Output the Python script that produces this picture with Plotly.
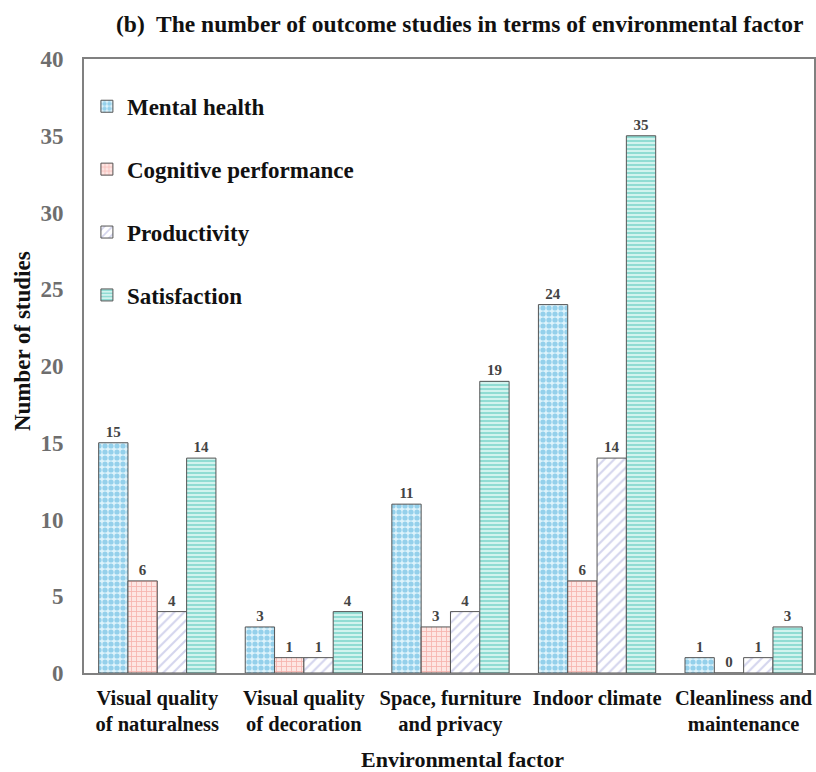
import plotly.graph_objects as go

# Environmental factors (x categories) and outcome study counts per outcome
factors = [
    "Visual quality<br>of naturalness",
    "Visual quality<br>of decoration",
    "Space, furniture<br>and privacy",
    "Indoor climate",
    "Cleanliness and<br>maintenance",
]
mental_health = [15, 3, 11, 24, 1]
cognitive_performance = [6, 1, 3, 6, 0]
productivity = [4, 1, 4, 14, 1]
satisfaction = [14, 4, 19, 35, 3]

y_ticks = [0, 5, 10, 15, 20, 25, 30, 35, 40]

SERIF = "Liberation Serif"

series = [
    ("Mental health", mental_health,
     dict(shape=".", fgcolor="#4aaedc", bgcolor="#dff3fb", size=6, solidity=0.6)),
    ("Cognitive performance", cognitive_performance,
     dict(shape="+", fgcolor="#ee7f78", bgcolor="#fde6e3", size=5, solidity=0.3)),
    ("Productivity", productivity,
     dict(shape="/", fgcolor="#a9abdc", bgcolor="#ffffff", size=7, solidity=0.3)),
    ("Satisfaction", satisfaction,
     dict(shape="-", fgcolor="#3fc2b2", bgcolor="#d2f3ee", size=4, solidity=0.45)),
]

fig = go.Figure()
for name, vals, pattern in series:
    fig.add_trace(go.Bar(
        name=name,
        x=factors,
        y=vals,
        legendgroup=name,
        marker=dict(
            color=pattern["bgcolor"],
            line=dict(color="#555555", width=1),
            pattern=dict(fillmode="overlay", **pattern),
        ),
        text=vals,
        texttemplate="%{text}",
        textposition="outside",
        textfont=dict(family=SERIF, size=15, color="#444444", weight="bold"),
        cliponaxis=False,
    ))

fig.update_layout(
    width=816,
    height=772,
    margin=dict(l=84, r=0, t=59, b=99),
    paper_bgcolor="white",
    plot_bgcolor="white",
    barmode="group",
    bargap=0.2,
    bargroupgap=0,
    showlegend=True,
    legend=dict(
        x=0.004, y=0.958, xanchor="left", yanchor="top",
        font=dict(family=SERIF, size=23, color="#111111", weight="bold"),
        tracegroupgap=30,
        bgcolor="rgba(0,0,0,0)",
        itemwidth=30,
    ),
    xaxis=dict(
        range=[-0.5, 4.48],
        showline=True, linecolor="#808080", linewidth=2, mirror=True,
        ticks="",
        ticklabelstandoff=5,
        tickfont=dict(family=SERIF, size=20.5, color="#111111", weight="bold"),
        showgrid=False,
    ),
    yaxis=dict(
        range=[0, 40],
        tickvals=y_ticks,
        showline=True, linecolor="#808080", linewidth=2, mirror=True,
        ticks="",
        ticklabelstandoff=14,
        tickfont=dict(family=SERIF, size=23, color="#6e6e6e", weight="bold"),
        showgrid=False,
        zeroline=False,
    ),
    annotations=[
        dict(
            text="(b)  The number of outcome studies in terms of environmental factor",
            xref="paper", yref="paper", x=0.515, y=1.0, yshift=35,
            xanchor="center", yanchor="middle", showarrow=False,
            font=dict(family=SERIF, size=23.5, color="#111111", weight="bold"),
        ),
        dict(
            text="Environmental factor",
            xref="paper", yref="paper", x=0.519, y=-0.141,
            xanchor="center", yanchor="middle", showarrow=False,
            font=dict(family=SERIF, size=22, color="#111111", weight="bold"),
        ),
        dict(
            text="Number of studies",
            xref="paper", yref="paper", x=-0.084, y=0.54,
            xanchor="center", yanchor="middle", showarrow=False, textangle=-90,
            font=dict(family=SERIF, size=23, color="#111111", weight="bold"),
        ),
    ],
)

fig.write_html("out.html")
